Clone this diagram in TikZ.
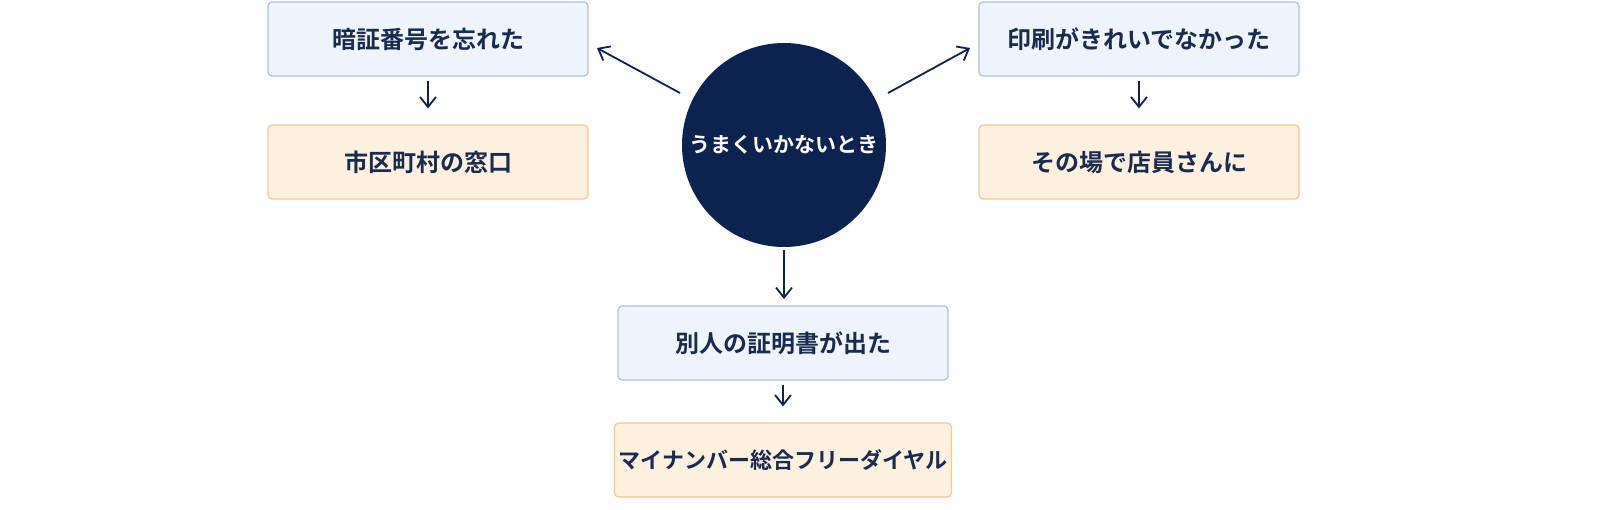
\documentclass[tikz,border=0pt]{standalone}
\usepackage{fontspec}
\setmainfont{Noto Sans CJK JP}[BoldFont={* Bold}]
\usetikzlibrary{arrows.meta}
\definecolor{navy}{HTML}{0C2350}
\definecolor{txt}{HTML}{1A2B50}
\definecolor{bfill}{HTML}{EEF4FB}
\definecolor{bdraw}{HTML}{A9C4E4}
\definecolor{ofill}{HTML}{FEF0DE}
\definecolor{odraw}{HTML}{F5C98E}
\begin{document}
\begin{tikzpicture}[x=0.5pt,y=-0.5pt,
 box/.style={rounded corners=2pt,minimum width=160pt,minimum height=37pt,font=\bfseries\fontsize{12}{14}\selectfont,text=txt,line width=0.6pt},
 bbox/.style={box,fill=bfill,draw=bdraw},
 obox/.style={box,fill=ofill,draw=odraw},
 arr/.style={-{Straight Barb[length=5pt,width=8pt]},draw=navy,line width=0.9pt}]
\useasboundingbox[fill=white] (0,0) rectangle (1600,509);
\node[circle,fill=navy,minimum size=102pt,inner sep=0pt,text=white,font=\bfseries\fontsize{10.5}{12}\selectfont] (c) at (784,145) {うまくいかないとき};
\node[bbox] (a1) at (428,39) {暗証番号を忘れた};
\node[obox] (a2) at (428,162) {市区町村の窓口};
\node[bbox] (b1) at (1139,39) {印刷がきれいでなかった};
\node[obox] (b2) at (1139,162) {その場で店員さんに};
\node[bbox,minimum width=165pt] (d1) at (783,343) {別人の証明書が出た};
\node[obox,minimum width=165pt,inner xsep=2pt,font=\bfseries\fontsize{11}{13}\selectfont] (d2) at (783,460) {マイナンバー総合フリーダイヤル};
\coordinate (cl) at (680,93); \coordinate (al) at (597,48);
\coordinate (cr) at (888,93); \coordinate (br) at (970,48);
\coordinate (cd) at (784,250); \coordinate (dd) at (784,299);
\draw[arr] (cl) -- (al);
\draw[arr] (cr) -- (br);
\draw[arr] (cd) -- (dd);
\draw[arr] ([yshift=-2]a1.south) -- ([yshift=8]a2.north);
\draw[arr] ([yshift=-2]b1.south) -- ([yshift=8]b2.north);
\draw[arr] ([yshift=-2]d1.south) -- ([yshift=8]d2.north);
\end{tikzpicture}
\end{document}
